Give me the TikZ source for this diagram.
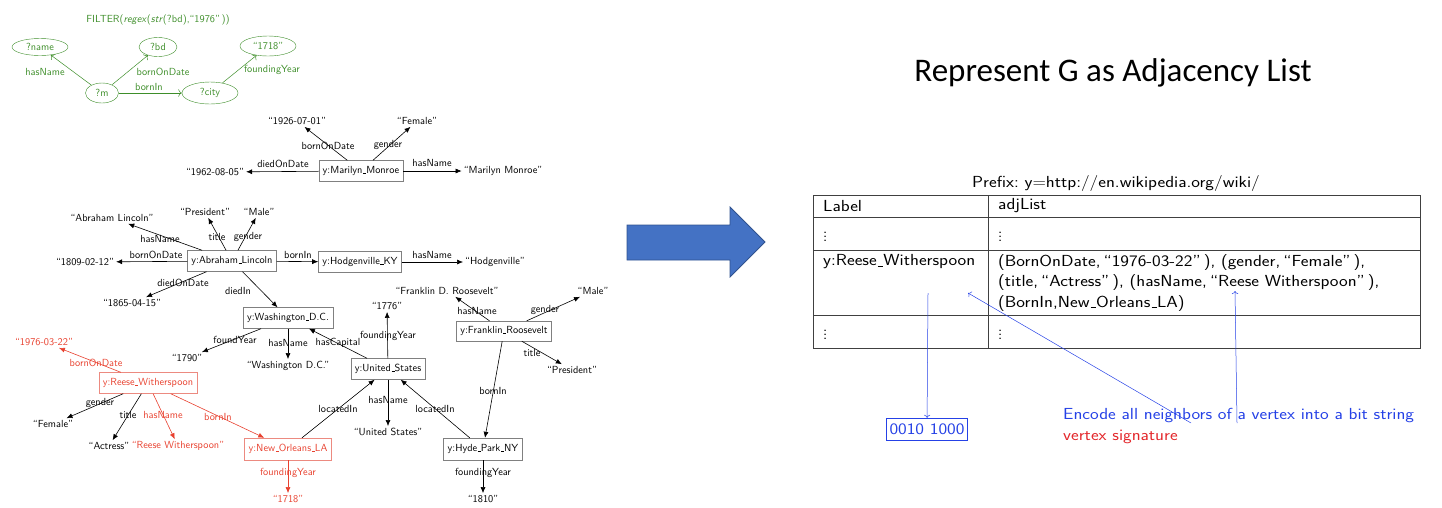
\documentclass[tikz,border=0pt]{standalone}
\usepackage{fontspec}
\usepackage{graphicx}
\newfontfamily\titlefont{Carlito}
\usetikzlibrary{shapes.geometric, arrows.meta}
\definecolor{querygreen}{HTML}{3E8E2A}
\definecolor{matchred}{HTML}{E8412F}
\definecolor{matchbox}{HTML}{EC8A80}
\definecolor{sigred}{HTML}{E3272B}
\definecolor{annoblue}{HTML}{2541E6}
\definecolor{arrowblue}{HTML}{4472C4}
\definecolor{arrowedge}{HTML}{2F528F}
\definecolor{gridgray}{HTML}{404040}
\newcommand{\lowbar}{\kern.06em\vbox{\hrule width.3em}}
\newcommand{\wide}[1]{\scalebox{1.15}[1]{#1}}

\begin{document}
\begin{tikzpicture}[x=1pt, y=-1pt, font=\sffamily\fontsize{10.3}{12}\selectfont]
\tikzstyle{qnode} = [ellipse, draw=querygreen, text=querygreen, inner sep=0pt]
\tikzstyle{qlabel} = [text=querygreen, inner sep=1pt]
\tikzstyle{qedge} = [-{To[length=3.5pt]}, querygreen, line width=0.5pt]
\tikzstyle{res} = [rectangle, draw=gray, minimum height=21pt, inner sep=4pt]
\tikzstyle{hitres} = [rectangle, draw=matchbox, text=matchred, minimum height=21pt, inner sep=4pt]
\tikzstyle{lit} = [inner sep=2pt]
\tikzstyle{lbl} = [inner sep=1pt]
\tikzstyle{edge} = [-{Latex[length=6pt,width=5pt]}, line width=0.6pt]
\tikzstyle{hitedge} = [edge, matchred]
\tikzstyle{tabtext} = [anchor=west, inner sep=0pt, font=\sffamily\fontsize{16}{20.5}\selectfont]
\tikzstyle{annoedge} = [-{To[length=3pt]}, annoblue, line width=0.5pt]

\useasboundingbox (0,0) rectangle (1442,507);

% query graph
\node (qfilter) [qlabel] at (158,20) {FILTER(\textit{regex}(\textit{str}(?bd),``1976''\,))};
\node (qname) [qnode, minimum width=56pt, minimum height=17pt] at (40,47) {?name};
\node (qbd) [qnode, minimum width=38pt, minimum height=19pt] at (158,47) {?bd};
\node (q1718) [qnode, minimum width=56pt, minimum height=20pt] at (268,46) {``1718''};
\node (qm) [qnode, minimum width=33pt, minimum height=20pt] at (102,93) {?m};
\node (qcity) [qnode, minimum width=56pt, minimum height=22pt] at (210,93) {?city};
\draw[qedge] (qm) -- (qname);
\draw[qedge] (qm) -- (qbd);
\draw[qedge] (qm) -- (qcity);
\draw[qedge] (qcity) -- (q1718);
\node (qlname) [qlabel] at (45,72) {hasName};
\node (qlbd) [qlabel] at (163,72) {bornOnDate};
\node (qlborn) [qlabel] at (149,87) {bornIn};
\node (qlyear) [qlabel] at (272,70) {foundingYear};

% Marilyn Monroe
\node (mm) [res] at (361,171) {y:Marilyn\lowbar Monroe};
\node (mmborn) [lit] at (297,121) {``1926-07-01''};
\node (mmgen) [lit] at (417,121) {``Female''};
\node (mmdied) [lit] at (215,172) {``1962-08-05''};
\node (mmname) [lit] at (503,171) {``Marilyn Monroe''};
\draw[edge] (mm) -- (mmborn);
\draw[edge] (mm) -- (mmgen);
\draw[edge] (mm) -- (mmdied);
\draw[edge] (mm) -- (mmname);
\node (mml1) [lbl] at (328,146) {bornOnDate};
\node (mml2) [lbl] at (388,145) {gender};
\node (mml3) [lbl] at (283,164) {diedOnDate};
\node (mml4) [lbl] at (432,163) {hasName};

% Abraham Lincoln
\node (al) [res] at (232,261) {y:Abraham\lowbar Lincoln};
\node (alname) [lit] at (112,218) {``Abraham Lincoln''};
\node (alpres) [lit] at (205,212) {``President''};
\node (almale) [lit] at (259,212) {``Male''};
\node (al1809) [lit] at (85,262) {``1809-02-12''};
\node (al1865) [lit] at (132,303) {``1865-04-15''};
\node (hv) [res] at (360,262) {y:Hodgenville\lowbar KY};
\node (hvname) [lit] at (495,262) {``Hodgenville''};
\node (wdc) [res] at (288,318) {y:Washington\lowbar D.C.};
\draw[edge] (al) -- (alname);
\draw[edge] (al) -- (alpres);
\draw[edge] (al) -- (almale);
\draw[edge] (al) -- (al1809);
\draw[edge] (al) -- (al1865);
\draw[edge] (al) -- (hv);
\draw[edge] (al) -- (wdc);
\draw[edge] (hv) -- (hvname);
\node (all1) [lbl] at (160,239) {hasName};
\node (all2) [lbl] at (217,237) {title};
\node (all3) [lbl] at (248,237) {gender};
\node (all4) [lbl] at (156,255) {bornOnDate};
\node (all5) [lbl] at (183,283) {diedOnDate};
\node (all6) [lbl] at (238,291) {diedIn};
\node (all7) [lbl] at (298,255) {bornIn};
\node (hvl1) [lbl] at (432,255) {hasName};

% Washington D.C. and United States
\node (wdc1790) [lit] at (187,358) {``1790''};
\node (wdcname) [lit] at (288,366) {``Washington D.C.''};
\node (us) [res] at (388,369) {y:United\lowbar States};
\node (us1776) [lit] at (387,306) {``1776''};
\node (usname) [lit] at (388,432) {``United States''};
\draw[edge] (wdc) -- (wdc1790);
\draw[edge] (wdc) -- (wdcname);
\draw[edge] (us) -- (wdc);
\draw[edge] (us) -- (us1776);
\draw[edge] (us) -- (usname);
\node (wdcl1) [lbl] at (235,340) {foundYear};
\node (wdcl2) [lbl] at (288,343) {hasName};
\node (usl1) [lbl] at (338,343) {hasCapital};
\node (usl2) [lbl] at (388,336) {foundingYear};
\node (usl3) [lbl] at (388,400) {hasName};

% Franklin Roosevelt
\node (fr) [res, minimum height=20pt] at (504,331) {y:Franklin\lowbar Roosevelt};
\node (frname) [lit] at (447,291) {``Franklin D. Roosevelt''};
\node (frmale) [lit] at (593,291) {``Male''};
\node (frpres) [lit] at (572,370) {``President''};
\node (hp) [res, minimum height=22pt] at (483,449) {y:Hyde\lowbar Park\lowbar NY};
\node (hp1810) [lit] at (483,499) {``1810''};
\draw[edge] (fr) -- (frname);
\draw[edge] (fr) -- (frmale);
\draw[edge] (fr) -- (frpres);
\draw[edge] (fr) -- (hp);
\draw[edge] (hp) -- (hp1810);
\draw[edge] (hp) -- (us);
\node (frl1) [lbl] at (477,311) {hasName};
\node (frl2) [lbl] at (545,310) {gender};
\node (frl3) [lbl] at (532,353) {title};
\node (frl4) [lbl] at (493,391) {bornIn};
\node (hpl1) [lbl] at (483,473) {foundingYear};
\node (hpl2) [lbl] at (435,409) {locatedIn};

% Reese Witherspoon (the match)
\node (rw) [hitres] at (148,383) {y:Reese\lowbar Witherspoon};
\node (rw1976) [lit, text=matchred] at (44,342) {``1976-03-22''};
\node (rwfem) [lit] at (53,424) {``Female''};
\node (rwact) [lit] at (109,446) {``Actress''};
\node (rwname) [lit, text=matchred] at (178,446) {``Reese Witherspoon''};
\node (no) [hitres, minimum height=22pt] at (288,449) {y:New\lowbar Orleans\lowbar LA};
\node (no1718) [lit, text=matchred] at (288,499) {``1718''};
\draw[hitedge] (rw) -- (rw1976);
\draw[edge] (rw) -- (rwfem);
\draw[edge] (rw) -- (rwact);
\draw[hitedge] (rw) -- (rwname);
\draw[hitedge] (rw) -- (no);
\draw[hitedge] (no) -- (no1718);
\draw[edge] (no) -- (us);
\node (rwl1) [lbl, text=matchred] at (96,363) {bornOnDate};
\node (rwl2) [lbl] at (100,403) {gender};
\node (rwl3) [lbl] at (128,415) {title};
\node (rwl4) [lbl, text=matchred] at (163,415) {hasName};
\node (rwl5) [lbl, text=matchred] at (218,417) {bornIn};
\node (nol1) [lbl, text=matchred] at (288,473) {foundingYear};
\node (nol2) [lbl] at (338,409) {locatedIn};

% big arrow
\draw[draw=arrowedge, fill=arrowblue, line width=0.8pt] (627,225) -- (730,225) -- (730,207) -- (765,242) -- (730,277) -- (730,260) -- (627,260) -- cycle;

% adjacency list
\node (title) [font=\titlefont\fontsize{33}{40}\selectfont] at (1113,73) {Represent G as Adjacency List};
\node (prefix) [tabtext, anchor=center] at (1116,183) {\wide{Prefix:\ y=http://en.wikipedia.org/wiki/}};
\draw[gridgray, line width=0.8pt] (813,195) rectangle (1420,348);
\draw[gridgray, line width=0.8pt] (813,217) -- (1420,217);
\draw[gridgray, line width=0.8pt] (813,250) -- (1420,250);
\draw[gridgray, line width=0.8pt] (813,315) -- (1420,315);
\draw[gridgray, line width=0.8pt] (988,195) -- (988,348);
\node (hlabel) [tabtext] at (823,206) {\wide{Label}};
\node (hadj) [tabtext] at (998,206) {\wide{adjList}};
\node (dots1) [tabtext] at (823,234) {$\vdots$};
\node (dots2) [tabtext] at (998,234) {$\vdots$};
\node (rwlabel) [tabtext] at (823,262) {\wide{y:Reese\lowbar Witherspoon}};
\node (rwadj) [tabtext, anchor=north west, align=left] at (998,254) {\wide{(BornOnDate,\,``1976-03-22''\,), (gender,\,``Female''\,),}\\\wide{(title,\,``Actress''\,), (hasName,\,``Reese Witherspoon''\,),}\\\wide{(BornIn,New\lowbar Orleans\lowbar LA)}};
\node (dots3) [tabtext] at (823,332) {$\vdots$};
\node (dots4) [tabtext] at (998,332) {$\vdots$};

% signature annotation
\node (sig) [draw=annoblue, text=annoblue, font=\sffamily\fontsize{16}{20}\selectfont, inner xsep=3pt, inner ysep=2pt, minimum height=22pt] at (927,429) {\wide{0010 1000}};
\node (encode) [tabtext, text=annoblue] at (1063,416) {\wide{Encode all neighbors of a vertex into a bit string}};
\node (vsig) [tabtext, text=sigred] at (1063,437) {\wide{vertex signature}};
\coordinate (labelcell) at (928,293);
\coordinate (rowcell) at (968,293);
\coordinate (namecell) at (1235,291);
\draw[annoedge] (labelcell) -- (sig);
\draw[annoedge] ([xshift=128pt, yshift=-7pt]encode.west) -- (rowcell);
\draw[annoedge] ([xshift=174pt, yshift=-7pt]encode.west) -- (namecell);

\end{tikzpicture}
\end{document}
